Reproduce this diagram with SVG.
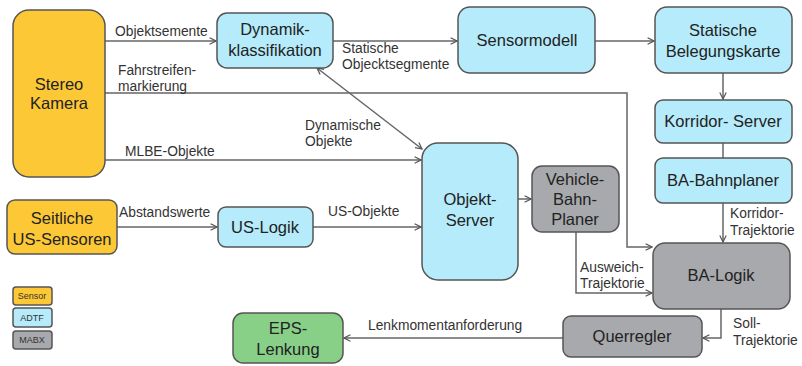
<svg xmlns="http://www.w3.org/2000/svg" width="802" height="366" viewBox="0 0 802 366">
<style>
.n{stroke:#555;stroke-width:1.5}
.y{fill:#FCC836}.b{fill:#B5EBFA}.g{fill:#A7A9AD}.gr{fill:#88CF88}
.t{font-family:"Liberation Sans",Arial,sans-serif;font-size:16.5px;fill:#222;text-anchor:middle}
.l{font-family:"Liberation Sans",Arial,sans-serif;font-size:13.8px;fill:#333}
.c{fill:none;stroke:#666;stroke-width:1.5}
.lg{font-family:"Liberation Sans",Arial,sans-serif;font-size:9px;fill:#333;text-anchor:middle}
</style>
<defs>
<marker id="a" viewBox="0 0 10 10" refX="9" refY="5" markerWidth="8" markerHeight="8" orient="auto-start-reverse" markerUnits="userSpaceOnUse">
<path d="M1,1 L9,5 L1,9" fill="none" stroke="#555" stroke-width="1.5"/>
</marker>
</defs>
<rect width="802" height="366" fill="#fff"/>
<g id="connectors">
<line class="c" x1="105" y1="41" x2="216" y2="41" marker-end="url(#a)"/>
<line class="c" x1="333" y1="41" x2="457" y2="41" marker-end="url(#a)"/>
<line class="c" x1="595" y1="41" x2="654" y2="41" marker-end="url(#a)"/>
<line class="c" x1="723" y1="73" x2="723" y2="99" marker-end="url(#a)"/>
<line class="c" x1="723" y1="143" x2="723" y2="158"/>
<line class="c" x1="723" y1="203" x2="723" y2="242" marker-end="url(#a)"/>
<polyline class="c" points="105,93 627,93 627,247 652,247" marker-end="url(#a)"/>
<line class="c" x1="317" y1="68" x2="422" y2="149" marker-start="url(#a)" marker-end="url(#a)"/>
<line class="c" x1="105" y1="160" x2="421" y2="160" marker-end="url(#a)"/>
<line class="c" x1="117" y1="227" x2="217" y2="227" marker-end="url(#a)"/>
<line class="c" x1="313" y1="227" x2="421" y2="227" marker-end="url(#a)"/>
<line class="c" x1="518" y1="199" x2="531" y2="199" marker-end="url(#a)"/>
<polyline class="c" points="576,232 576,293 652,293" marker-end="url(#a)"/>
<polyline class="c" points="721,309 721,338 703,338" marker-end="url(#a)"/>
<line class="c" x1="563" y1="338" x2="344" y2="338" marker-end="url(#a)"/>
<text class="l" x="115" y="36">Objektsemente</text>
<text class="l" x="342" y="53">Statische</text>
<text class="l" x="342" y="69">Objecktsegmente</text>
<text class="l" x="118" y="75">Fahrstreifen-</text>
<text class="l" x="118" y="91">markierung</text>
<text class="l" x="305" y="130">Dynamische</text>
<text class="l" x="305" y="146">Objekte</text>
<text class="l" x="125" y="156">MLBE-Objekte</text>
<text class="l" x="119" y="217">Abstandswerte</text>
<text class="l" x="328" y="216">US-Objekte</text>
<text class="l" x="730" y="218">Korridor-</text>
<text class="l" x="730" y="235">Trajektorie</text>
<text class="l" x="580" y="272">Ausweich-</text>
<text class="l" x="580" y="288">Trajektorie</text>
<text class="l" x="733" y="328">Soll-</text>
<text class="l" x="733" y="345">Trajektorie</text>
<text class="l" x="368" y="330">Lenkmomentanforderung</text>
</g>
<g id="stereo"><rect class="n y" x="13" y="10" width="92" height="167" rx="16"/><text class="t" x="59" y="90">Stereo</text><text class="t" x="59" y="109">Kamera</text></g>
<g id="dynamik"><rect class="n b" x="217" y="13" width="116" height="55" rx="10"/><text class="t" x="275" y="35">Dynamik-</text><text class="t" x="275" y="56">klassifikation</text></g>
<g id="sensormodell"><rect class="n b" x="458" y="7" width="137" height="66" rx="12"/><text class="t" x="527" y="46">Sensormodell</text></g>
<g id="belegungskarte"><rect class="n b" x="655" y="7" width="137" height="66" rx="12"/><text class="t" x="723" y="36">Statische</text><text class="t" x="723" y="57">Belegungskarte</text></g>
<g id="korridor"><rect class="n b" x="655" y="100" width="137" height="43" rx="8"/><text class="t" x="723" y="127">Korridor-  Server</text></g>
<g id="bahnplaner"><rect class="n b" x="655" y="158" width="137" height="45" rx="8"/><text class="t" x="723" y="186">BA-Bahnplaner</text></g>
<g id="balogik"><rect class="n g" x="653" y="243" width="137" height="66" rx="12"/><text class="t" x="721" y="281">BA-Logik</text></g>
<g id="querregler"><rect class="n g" x="563" y="316" width="139" height="41" rx="8"/><text class="t" x="632" y="342">Querregler</text></g>
<g id="eps"><rect class="n gr" x="233" y="313" width="110" height="50" rx="10"/><text class="t" x="288" y="334">EPS-</text><text class="t" x="288" y="355">Lenkung</text></g>
<g id="objektserver"><rect class="n b" x="422" y="143" width="96" height="137" rx="16"/><text class="t" x="470" y="205">Objekt-</text><text class="t" x="470" y="226">Server</text></g>
<g id="vehicle"><rect class="n g" x="532" y="166" width="87" height="66" rx="10"/><text class="t" x="575" y="185">Vehicle-</text><text class="t" x="575" y="205">Bahn-</text><text class="t" x="575" y="225">Planer</text></g>
<g id="seitliche"><rect class="n y" x="7" y="200" width="110" height="54" rx="8"/><text class="t" x="62" y="224">Seitliche</text><text class="t" x="62" y="245">US-Sensoren</text></g>
<g id="uslogik"><rect class="n b" x="218" y="207" width="95" height="40" rx="8"/><text class="t" x="265" y="233">US-Logik</text></g>
<g id="legend">
<rect class="n y" x="13" y="287" width="39" height="18" rx="3" stroke-width="1"/><text class="lg" x="32" y="299">Sensor</text>
<rect class="n b" x="13" y="308" width="39" height="19" rx="3" stroke-width="1"/><text class="lg" x="32" y="321">ADTF</text>
<rect class="n g" x="13" y="331" width="39" height="18" rx="3" stroke-width="1"/><text class="lg" x="32" y="343">MABX</text>
</g>
</svg>
